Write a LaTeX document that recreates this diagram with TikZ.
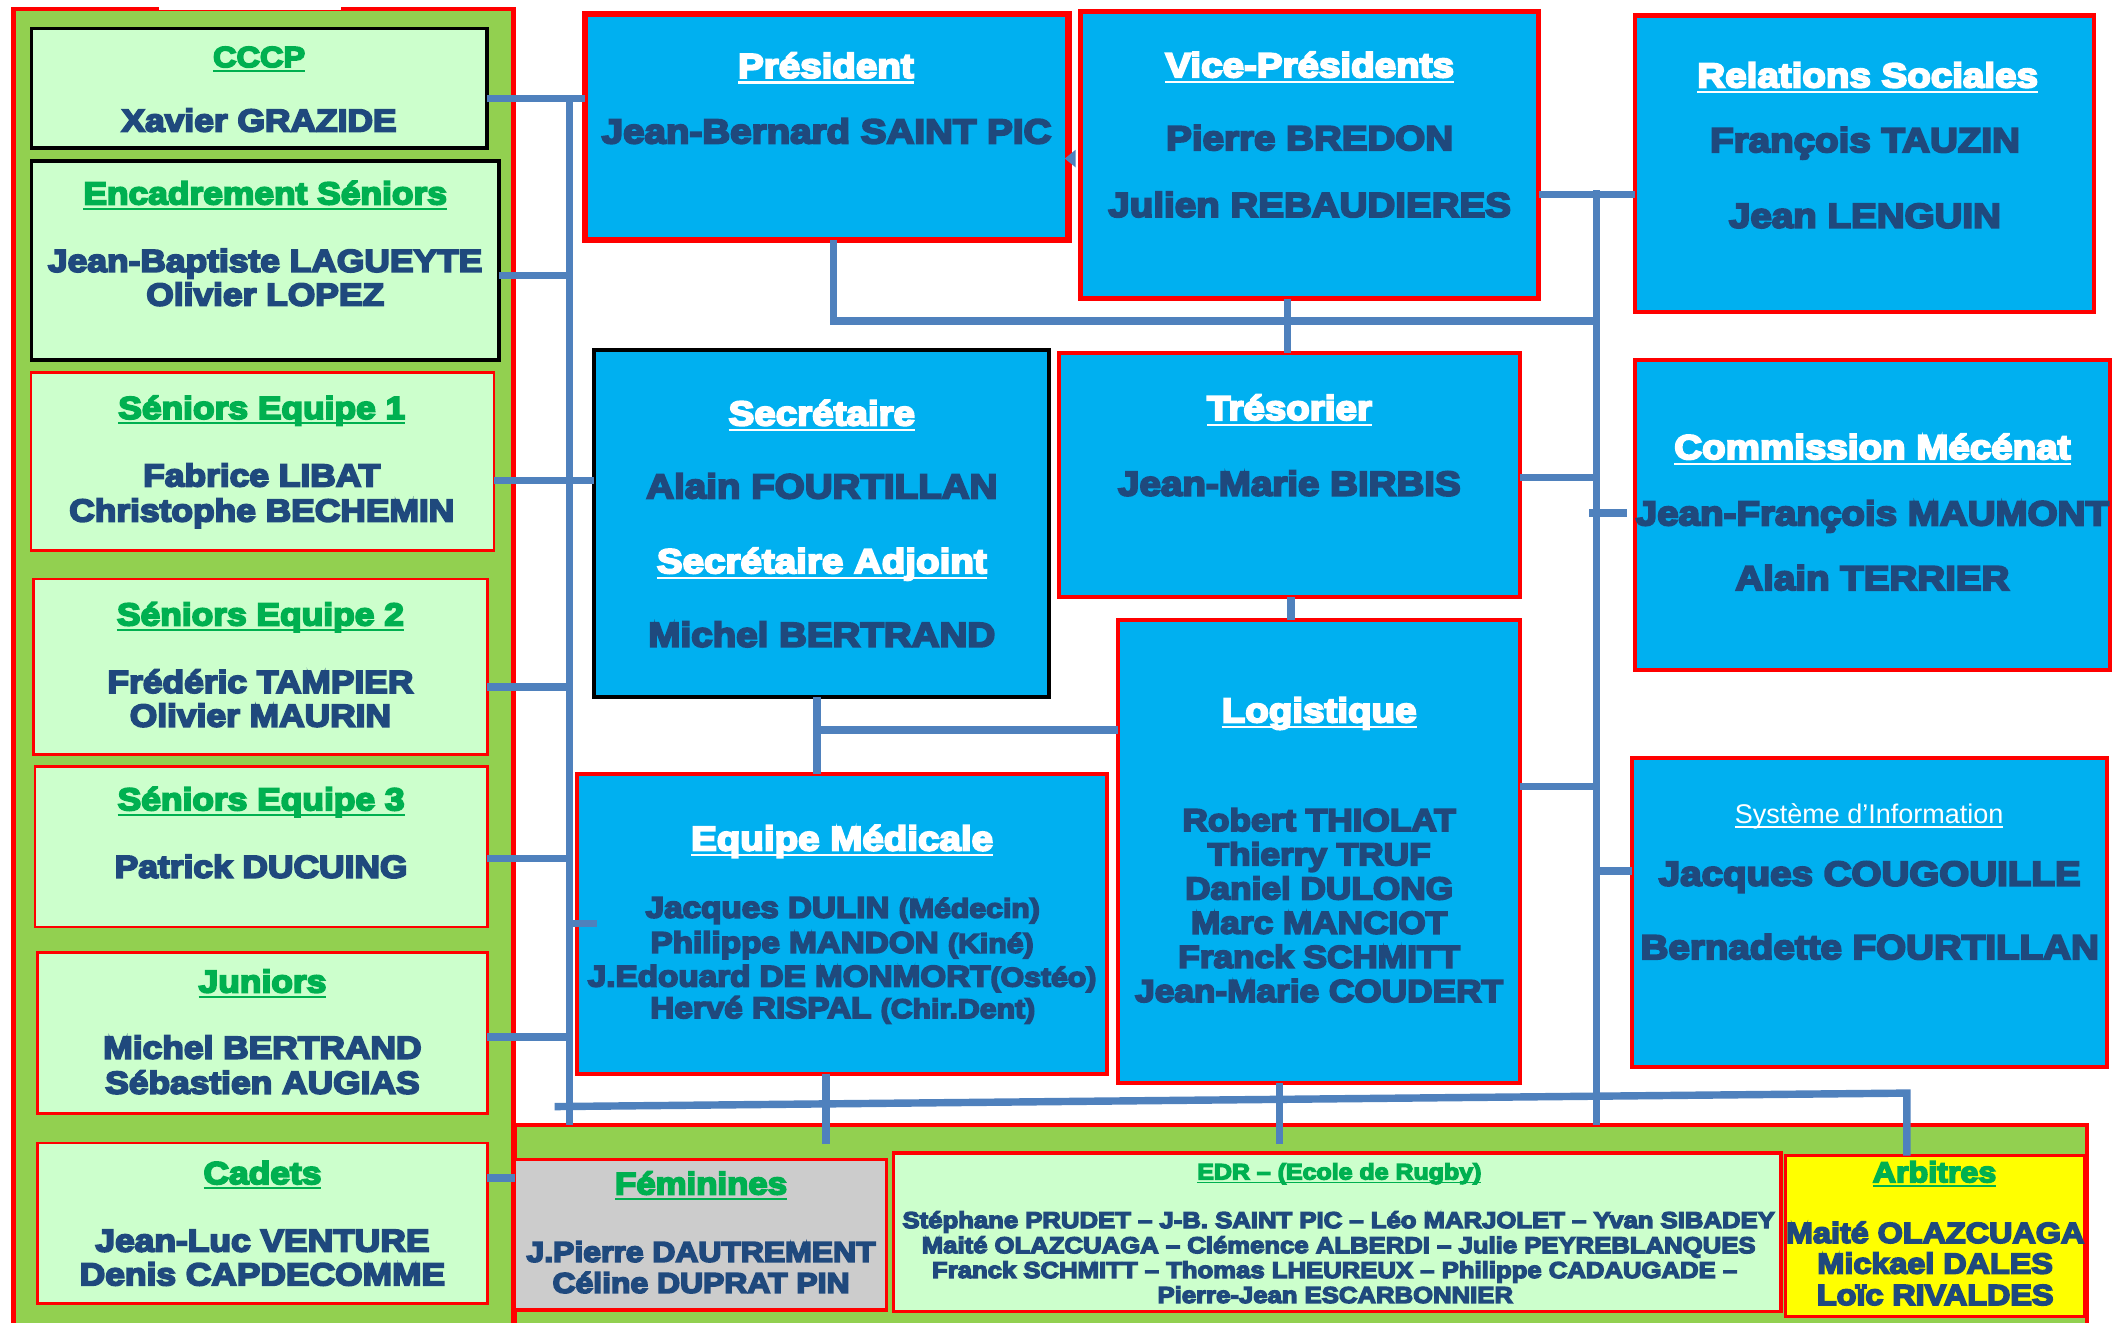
\documentclass[tikz,border=0pt]{standalone}
\usepackage{fontspec}
\setmainfont{Liberation Sans}
\newfontfamily\blk{Liberation Sans Bold}[FakeStretch=1.12,FakeBold=6]
\newfontfamily\reg{Liberation Sans}
\definecolor{cblue}{HTML}{00B0F0}
\definecolor{tnavy}{HTML}{1F497D}
\definecolor{tgreen}{HTML}{00B050}
\definecolor{lgreen}{HTML}{CCFFCC}
\definecolor{pgreen}{HTML}{92D050}
\definecolor{conn}{HTML}{4F81BD}
\definecolor{fgray}{HTML}{CCCCCC}
\definecolor{cyel}{HTML}{FFFF00}
\definecolor{cred}{HTML}{FF0000}
\newsavebox\ulbox
\newcommand\ul[1]{\sbox\ulbox{#1}\rlap{\rule[-0.17em]{\wd\ulbox}{0.065em}}\usebox\ulbox}
\newcommand\fs[1]{\fontsize{#1pt}{#1pt}\selectfont}
\tikzset{
  bxs/.style={rectangle, inner sep=0pt, outer sep=0pt},
  bluebox/.style={bxs, draw=cred, fill=cblue},
  blackblue/.style={bxs, draw=black, fill=cblue},
  lgbox/.style={bxs, draw=cred, fill=lgreen},
  lgblack/.style={bxs, draw=black, fill=lgreen},
  panel/.style={bxs, draw=cred, fill=pgreen},
  grbox/.style={bxs, draw=cred, fill=fgray},
  ybox/.style={bxs, draw=cred, fill=cyel},
  txt/.style={anchor=base, inner sep=0pt, outer sep=0pt},
  cn/.style={draw=conn, line width=5.5pt, line join=miter},
}
% name, style, lw, x1, y1, x2, y2 (outer edges)
\newcommand\bx[7]{\node[#2, line width=#3pt, minimum width={(#6-#4-#3)*1pt}, minimum height={(#7-#5-#3)*1pt}] (#1) at ({(#4+#6)/2},{(#5+#7)/2}) {};}
% name, colour, size, x, baseline y, text
\newcommand\tx[6]{\node[txt, text=#2, font=\blk\fs{#3}] (#1) at (#4,#5) {#6};}
\begin{document}
\begin{tikzpicture}[x=1pt,y=-1pt]
\useasboundingbox (0,0) rectangle (1568,980);
\clip (0,0) rectangle (1568,980);
\fill[white] (0,0) rectangle (1568,980);
% backgrounds
\bx{panelL}{panel}{3.5}{8}{5}{382}{1000}
\bx{band}{panel}{3}{380}{832}{1548}{1000}
\fill[white] (118,2) rectangle (253,7.6);
% left boxes
\bx{cccp}{lgblack}{2.5}{22}{20}{362}{111}
\bx{encad}{lgblack}{2.5}{22}{118}{371}{268}
\bx{se1}{lgbox}{2}{22}{275}{367}{409}
\bx{se2}{lgbox}{2}{24}{428}{362}{560}
\bx{se3}{lgbox}{2}{25}{567}{362}{688}
\bx{jun}{lgbox}{2}{27}{705}{362}{826}
\bx{cad}{lgbox}{2}{27}{846}{362}{967}
% centre and right boxes
\bx{pres}{bluebox}{4.5}{431}{8}{794}{180}
\bx{vp}{bluebox}{3.5}{799}{7}{1142}{223}
\bx{rel}{bluebox}{3}{1210}{10}{1553}{233}
\bx{com}{bluebox}{3}{1210}{265}{1565}{498}
\bx{sys}{bluebox}{3}{1208}{560}{1563}{792}
\bx{sec}{blackblue}{3}{439}{258}{779}{518}
\bx{tres}{bluebox}{3}{783}{260}{1128}{444}
\bx{log}{bluebox}{3}{827}{458}{1128}{804}
\bx{med}{bluebox}{3}{426}{572}{822}{797}
% bottom boxes
\bx{fem}{grbox}{2.5}{380}{858}{658}{972}
\bx{edr}{lgbox}{2.5}{661}{853}{1321}{973}
\bx{arb}{ybox}{2.5}{1322}{855}{1546}{977}
% texts left
\tx{tcccp}{tgreen}{21.5}{192}{49.7}{\ul{CCCP}}
\tx{ncccp}{tnavy}{23.4}{192}{97.4}{Xavier GRAZIDE}
\tx{tencad}{tgreen}{23.4}{196.5}{151.4}{\ul{Encadrement Séniors}}
\tx{nencadA}{tnavy}{23.4}{196.5}{201.4}{Jean-Baptiste LAGUEYTE}
\tx{nencadB}{tnavy}{23.4}{196.5}{226.4}{Olivier LOPEZ}
\tx{tseA}{tgreen}{23.4}{194}{310.4}{\ul{Séniors Equipe 1}}
\tx{nseAa}{tnavy}{23.4}{194}{360.4}{Fabrice LIBAT}
\tx{nseAb}{tnavy}{23.4}{194}{386.4}{Christophe BECHEMIN}
\tx{tseB}{tgreen}{23.4}{193}{463.4}{\ul{Séniors Equipe 2}}
\tx{nseBa}{tnavy}{23.4}{193}{513.4}{Frédéric TAMPIER}
\tx{nseBb}{tnavy}{23.4}{193}{538.4}{Olivier MAURIN}
\tx{tseC}{tgreen}{23.4}{193.5}{600.4}{\ul{Séniors Equipe 3}}
\tx{nseC}{tnavy}{23.4}{193.5}{650.4}{Patrick DUCUING}
\tx{tjun}{tgreen}{23.4}{194.5}{735.4}{\ul{Juniors}}
\tx{njunA}{tnavy}{23.4}{194.5}{784.4}{Michel BERTRAND}
\tx{njunB}{tnavy}{23.4}{194.5}{810.4}{Sébastien AUGIAS}
\tx{tcad}{tgreen}{23.4}{194.5}{877.4}{\ul{Cadets}}
\tx{ncadA}{tnavy}{23.4}{194.5}{927.4}{Jean-Luc VENTURE}
\tx{ncadB}{tnavy}{23.4}{194.5}{952.4}{Denis CAPDECOMME}
% texts centre
\tx{tpres}{white}{25.5}{612}{57.7}{\ul{Président}}
\tx{npres}{tnavy}{25.5}{612.5}{106.2}{Jean-Bernard SAINT PIC}
\tx{tvp}{white}{25.5}{970.5}{57.2}{\ul{Vice-Présidents}}
\tx{nvpA}{tnavy}{25.5}{970.5}{111.2}{Pierre BREDON}
\tx{nvpB}{tnavy}{25.5}{970.5}{160.7}{Julien REBAUDIERES}
\tx{trel}{white}{25.5}{1384}{64.7}{\ul{Relations Sociales}}
\tx{nrelA}{tnavy}{25.5}{1382}{112.7}{François TAUZIN}
\tx{nrelB}{tnavy}{25.5}{1382}{168.7}{Jean LENGUIN}
\tx{tcom}{white}{25.5}{1387.5}{340.2}{\ul{Commission Mécénat}}
\tx{ncomA}{tnavy}{25.5}{1387.5}{389.2}{Jean-François MAUMONT}
\tx{ncomB}{tnavy}{25.5}{1387.5}{437.2}{Alain TERRIER}
\node[txt, text=white, font=\reg\fs{20}] (tsys) at (1385,610.2) {\ul{Système d’Information}};
\tx{nsysA}{tnavy}{25.5}{1385.5}{656.2}{Jacques COUGOUILLE}
\tx{nsysB}{tnavy}{25.5}{1385.5}{710.7}{Bernadette FOURTILLAN}
\tx{tsec}{white}{25.5}{609}{315.2}{\ul{Secrétaire}}
\tx{nsecA}{tnavy}{25.5}{609}{369.2}{Alain FOURTILLAN}
\tx{tsecB}{white}{25.5}{609}{424.7}{\ul{Secrétaire Adjoint}}
\tx{nsecB}{tnavy}{25.5}{609}{479.2}{Michel BERTRAND}
\tx{ttres}{white}{25.5}{955.5}{311.2}{\ul{Trésorier}}
\tx{ntres}{tnavy}{25.5}{955.5}{367.2}{Jean-Marie BIRBIS}
\tx{tlog}{white}{25.5}{977.5}{535.2}{\ul{Logistique}}
\tx{nlogA}{tnavy}{23.3}{977.5}{615.8}{Robert THIOLAT}
\tx{nlogB}{tnavy}{23.3}{977.5}{641.1}{Thierry TRUF}
\tx{nlogC}{tnavy}{23.3}{977.5}{666.4}{Daniel DULONG}
\tx{nlogD}{tnavy}{23.3}{977.5}{691.8}{Marc MANCIOT}
\tx{nlogE}{tnavy}{23.3}{977.5}{717.1}{Franck SCHMITT}
\tx{nlogF}{tnavy}{23.3}{977.5}{742.4}{Jean-Marie COUDERT}
\tx{tmed}{white}{25.5}{624}{630.2}{\ul{Equipe Médicale}}
\tx{nmedA}{tnavy}{22}{624.5}{680}{Jacques DULIN {\fs{20}(Médecin)}}
\tx{nmedB}{tnavy}{22}{624}{706}{Philippe MANDON {\fs{20}(Kiné)}}
\tx{nmedC}{tnavy}{22}{624}{731}{J.Edouard DE MONMORT{\fs{20}(Ostéo)}}
\tx{nmedD}{tnavy}{22}{624.5}{754.4}{Hervé RISPAL {\fs{20}(Chir.Dent)}}
% texts bottom
\tx{tfem}{tgreen}{23}{519.5}{885}{\ul{Féminines}}
\tx{nfemA}{tnavy}{21.1}{519.5}{935}{J.Pierre DAUTREMENT}
\tx{nfemB}{tnavy}{21.1}{519.5}{958}{Céline DUPRAT PIN}
\tx{tedr}{tgreen}{16.5}{992.5}{874}{\ul{EDR – (Ecole de Rugby)}}
\tx{nedrA}{tnavy}{17}{992}{910}{Stéphane PRUDET – J-B. SAINT PIC – Léo MARJOLET – Yvan SIBADEY}
\tx{nedrB}{tnavy}{17}{992}{928.6}{Maité OLAZCUAGA – Clémence ALBERDI – Julie PEYREBLANQUES}
\tx{nedrC}{tnavy}{17}{989}{947}{Franck SCHMITT – Thomas LHEUREUX – Philippe CADAUGADE –}
\tx{nedrD}{tnavy}{17}{989.5}{965.5}{Pierre-Jean ESCARBONNIER}
\tx{tarb}{tgreen}{21.3}{1433.5}{876}{\ul{Arbitres}}
\tx{narbA}{tnavy}{21.4}{1434}{921}{Maité OLAZCUAGA}
\tx{narbB}{tnavy}{21.4}{1434}{943.7}{Mickael DALES}
\tx{narbC}{tnavy}{21.4}{1434}{967}{Loïc RIVALDES}
% connector reference coordinates
\coordinate (Lt) at (422,73);
\coordinate (Rt) at (1183,141);
\coordinate (yA) at (0,238);
\coordinate (yB) at (0,541);
\coordinate (yC) at (0,848);
\coordinate (yE) at (0,204);
\coordinate (yOne) at (0,356);
\coordinate (yTwo) at (0,509);
\coordinate (yThree) at (0,636);
\coordinate (yJ) at (0,768.5);
\coordinate (yK) at (0,873);
\coordinate (yV) at (0,144);
\coordinate (yT) at (0,354);
\coordinate (yCm) at (0,380);
\coordinate (yL) at (0,583);
\coordinate (yS) at (0,645.5);
\coordinate (xP) at (617.5,0);
\coordinate (xS) at (605.5,0);
\coordinate (xMb) at (612,0);
\coordinate (xLb) at (948,0);
\coordinate (xT) at (954,0);
\coordinate (xTb) at (956.5,0);
\coordinate (xCa) at (1177.5,0);
\coordinate (xCb) at (1205.5,0);
\coordinate (barL) at (411,820);
\coordinate (barR) at (1413,810);
% connectors
\draw[cn] (cccp.east |- Lt) -- (pres.west |- Lt);
\draw[cn] (Lt) -- (Lt |- band.north);
\draw[cn] (encad.east |- yE) -- (Lt |- yE);
\draw[cn] (se1.east |- yOne) -- (sec.west |- yOne);
\draw[cn] (se2.east |- yTwo) -- (Lt |- yTwo);
\draw[cn] (se3.east |- yThree) -- (Lt |- yThree);
\draw[cn] (Lt |- med.west) -- ([xshift=15pt]med.west);
\draw[cn] (jun.east |- yJ) -- (Lt |- yJ);
\draw[cn] (cad.east |- yK) -- (band.west |- yK);
\draw[cn] (xP |- pres.south) -- (xP |- yA) -- (Rt |- yA);
\draw[cn] (xT |- vp.south) -- (xT |- tres.north);
\draw[cn] (vp.east |- yV) -- (rel.west |- yV);
\draw[cn] (Rt) -- (Rt |- band.north);
\draw[cn] (tres.east |- yT) -- (Rt |- yT);
\draw[cn] (xCa |- yCm) -- (xCb |- yCm);
\draw[cn] (xTb |- tres.south) -- (xTb |- log.north);
\draw[cn] (xS |- sec.south) -- (xS |- med.north);
\draw[cn] (xS |- yB) -- (log.west |- yB);
\draw[cn] (log.east |- yL) -- (Rt |- yL);
\draw[cn] (Rt |- yS) -- (sys.west |- yS);
\draw[cn] (xMb |- med.south) -- (xMb |- yC);
\draw[cn] (xLb |- log.south) -- (xLb |- yC);
\draw[cn] (barL) -- (barR) -- (barR |- arb.north);
\fill[conn] (789,117.5) -- (797,111) -- (797,124) -- cycle;
\end{tikzpicture}
\end{document}
